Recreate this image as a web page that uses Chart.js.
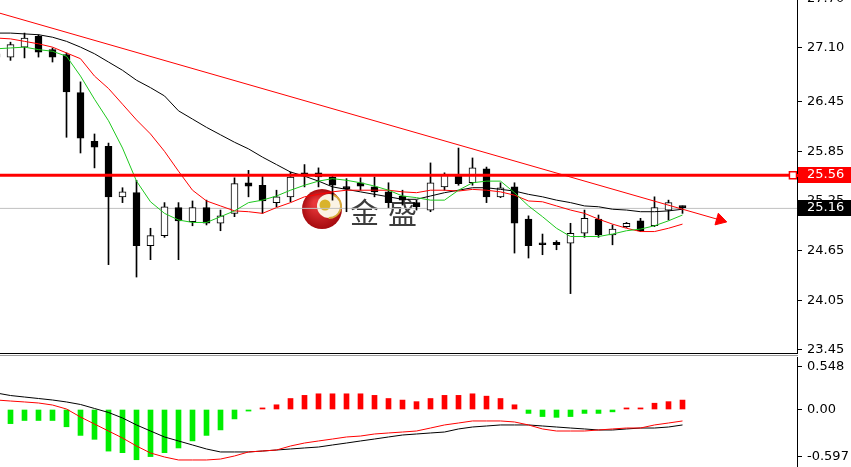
<!DOCTYPE html>
<html>
<head>
<meta charset="utf-8">
<title>XAG chart</title>
<script src="https://cdn.jsdelivr.net/npm/chart.js@4.4.1/dist/chart.umd.min.js"></script>
<style>
  html, body { margin: 0; padding: 0; background: #fff; overflow: hidden; }
  #wrap { position: relative; width: 851px; height: 467px; }
  #main { position: absolute; left: 0; top: 0; }
  #macd { position: absolute; left: 0; top: 357px; }
</style>
</head>
<body>
<div id="wrap">
  <canvas id="main" width="851" height="357"></canvas>
  <canvas id="macd" width="851" height="110"></canvas>
</div>
<script>
// candles (index 0 is the one cut at the left edge)
const open  = [26.99, 26.99, 27.11, 27.24, 27.08, 27.02, 26.56, 25.97, 25.91, 25.30, 25.35, 24.71, 24.83, 25.17, 25.00, 25.17, 24.98, 25.10, 25.47, 25.44, 25.23, 25.30, 25.59, 25.59, 25.54, 25.42, 25.47, 25.42, 25.36, 25.31, 25.23, 25.14, 25.42, 25.56, 25.47, 25.64, 25.30, 25.42, 25.03, 24.73, 24.75, 24.74, 24.86, 25.03, 24.84, 24.94, 25.01, 24.95, 25.14, 25.19];
const high  = [27.06, 27.17, 27.28, 27.26, 27.10, 27.04, 26.69, 26.06, 25.95, 25.41, 25.50, 24.92, 25.23, 25.23, 25.25, 25.26, 25.14, 25.53, 25.62, 25.56, 25.38, 25.60, 25.69, 25.65, 25.56, 25.52, 25.53, 25.54, 25.47, 25.38, 25.26, 25.71, 25.59, 25.89, 25.77, 25.66, 25.47, 25.47, 25.07, 24.85, 24.77, 24.98, 25.14, 25.08, 24.96, 24.99, 25.04, 25.30, 25.26, 25.19];
const low   = [26.93, 26.95, 26.98, 26.99, 26.93, 26.02, 25.83, 25.65, 24.48, 25.23, 24.33, 24.54, 24.81, 24.54, 24.95, 24.96, 24.89, 25.06, 25.30, 25.10, 25.18, 25.24, 25.42, 25.42, 25.26, 25.12, 25.38, 25.30, 25.17, 25.20, 25.14, 25.12, 25.38, 25.44, 25.44, 25.23, 25.29, 24.62, 24.56, 24.60, 24.66, 24.13, 24.81, 24.81, 24.72, 24.93, 24.88, 24.94, 25.02, 25.10];
const close = [27.03, 27.14, 27.22, 27.05, 26.99, 26.57, 26.01, 25.90, 25.30, 25.36, 24.71, 24.83, 25.18, 25.01, 25.17, 24.98, 25.07, 25.46, 25.43, 25.25, 25.30, 25.54, 25.55, 25.54, 25.44, 25.40, 25.43, 25.36, 25.23, 25.26, 25.18, 25.47, 25.56, 25.46, 25.65, 25.30, 25.41, 24.98, 24.71, 24.72, 24.72, 24.86, 25.04, 24.84, 24.91, 24.98, 24.89, 25.17, 25.23, 25.17];

// moving averages
const maFast = [27.09, 27.10, 27.11, 27.08, 27.06, 27.00, 26.76, 26.48, 26.22, 25.89, 25.49, 25.24, 25.10, 25.02, 24.99, 24.99, 25.06, 25.13, 25.23, 25.26, 25.31, 25.38, 25.44, 25.49, 25.52, 25.50, 25.47, 25.43, 25.38, 25.31, 25.29, 25.26, 25.26, 25.38, 25.47, 25.49, 25.49, 25.35, 25.19, 25.06, 24.92, 24.82, 24.82, 24.82, 24.85, 24.89, 24.91, 24.95, 25.01, 25.08];
const maMid  = [27.22, 27.21, 27.18, 27.15, 27.11, 27.04, 26.97, 26.76, 26.61, 26.42, 26.23, 26.06, 25.85, 25.61, 25.38, 25.25, 25.19, 25.13, 25.12, 25.10, 25.17, 25.23, 25.30, 25.33, 25.36, 25.38, 25.38, 25.38, 25.38, 25.36, 25.35, 25.38, 25.38, 25.37, 25.39, 25.38, 25.36, 25.32, 25.25, 25.24, 25.19, 25.14, 25.10, 25.03, 24.97, 24.92, 24.88, 24.88, 24.92, 24.97];
const maSlow = [27.28, 27.28, 27.27, 27.26, 27.23, 27.18, 27.11, 27.03, 26.93, 26.83, 26.71, 26.62, 26.52, 26.34, 26.24, 26.14, 26.05, 25.96, 25.88, 25.78, 25.69, 25.60, 25.55, 25.49, 25.42, 25.39, 25.36, 25.33, 25.30, 25.27, 25.27, 25.31, 25.35, 25.38, 25.41, 25.41, 25.39, 25.37, 25.33, 25.30, 25.26, 25.23, 25.19, 25.18, 25.15, 25.14, 25.12, 25.12, 25.13, 25.15];

// MACD panel
const macdHist   = [-0.15, -0.18, -0.14, -0.14, -0.14, -0.22, -0.33, -0.38, -0.53, -0.55, -0.64, -0.60, -0.55, -0.49, -0.40, -0.33, -0.26, -0.12, -0.02, 0.02, 0.06, 0.14, 0.18, 0.20, 0.20, 0.20, 0.20, 0.18, 0.14, 0.12, 0.10, 0.14, 0.18, 0.18, 0.20, 0.17, 0.14, 0.06, -0.05, -0.09, -0.10, -0.09, -0.05, -0.05, -0.03, 0.02, 0.02, 0.08, 0.10, 0.12];
const macdMain   = [0.210, 0.178, 0.159, 0.140, 0.121, 0.096, 0.064, 0.013, -0.038, -0.108, -0.197, -0.274, -0.350, -0.401, -0.452, -0.503, -0.541, -0.541, -0.541, -0.529, -0.516, -0.503, -0.490, -0.478, -0.452, -0.427, -0.401, -0.376, -0.350, -0.325, -0.312, -0.299, -0.287, -0.248, -0.223, -0.210, -0.197, -0.197, -0.197, -0.210, -0.223, -0.236, -0.248, -0.261, -0.261, -0.248, -0.236, -0.236, -0.223, -0.197];
const macdSignal = [0.121, 0.108, 0.096, 0.083, 0.057, 0.006, -0.096, -0.185, -0.274, -0.363, -0.465, -0.554, -0.605, -0.643, -0.643, -0.643, -0.631, -0.592, -0.541, -0.529, -0.516, -0.465, -0.427, -0.401, -0.376, -0.350, -0.338, -0.312, -0.299, -0.287, -0.274, -0.236, -0.197, -0.172, -0.146, -0.146, -0.146, -0.159, -0.197, -0.248, -0.274, -0.274, -0.274, -0.261, -0.248, -0.236, -0.236, -0.197, -0.172, -0.146];

// levels, trend line, axis ticks
const levelPrice = 25.56;
const bidPrice = 25.16;
const trendX = [0.25, 51.68];
const trendY = [27.52, 25.02];
const priceTicks = [27.70, 27.10, 26.45, 25.85, 25.25, 24.65, 24.05, 23.45];
const macdTicks = [0.548, 0, -0.597];
const macdTickLabels = ['0.548', '0.00', '-0.597'];
const watermarkText = '金盛';

// x range: one bar every 14px, plot area 797px wide
const xMin = 0.25;
const xMax = xMin + 797 / 14;
const idx = open.map((_, i) => i);
const tickFont = { family: 'DejaVu Sans', size: 13 };

function pts(arr) {
    return arr.map((v, i) => ({ x: i, y: v }));
}

// right axis with a fixed width and no label overflow padding
function fixAxis(scale) {
    scale.width = 54;
    scale.paddingTop = 0;
    scale.paddingBottom = 0;
}

const mainPlugin = {
    id: 'mainDecor',
    beforeDatasetsDraw(chart) {
        const ctx = chart.ctx;
        // watermark logo
        ctx.save();
        const cx = 322, cy = 209;
        const g = ctx.createRadialGradient(cx - 6, cy - 6, 3, cx, cy, 21);
        g.addColorStop(0, '#e8373a');
        g.addColorStop(1, '#a3090d');
        ctx.fillStyle = g;
        ctx.beginPath();
        ctx.arc(cx, cy, 20, 0, Math.PI * 2);
        ctx.fill();
        ctx.fillStyle = '#fbf3e4';
        ctx.beginPath();
        ctx.arc(cx + 7, cy - 3, 12, 0, Math.PI * 2);
        ctx.fill();
        ctx.strokeStyle = '#d6a93a';
        ctx.lineWidth = 2;
        ctx.beginPath();
        ctx.arc(cx + 7, cy - 3, 12, -1.2, 1.6);
        ctx.stroke();
        ctx.fillStyle = '#d9b32c';
        ctx.beginPath();
        ctx.arc(cx + 3, cy - 4, 5.5, 0, Math.PI * 2);
        ctx.fill();
        ctx.fillStyle = '#3c3c3c';
        ctx.font = '29px "Noto Sans CJK SC"';
        ctx.textBaseline = 'alphabetic';
        ctx.fillText(watermarkText[0], 350, 224);
        ctx.fillText(watermarkText[1], 388, 224);
        ctx.restore();
    },
    afterDraw(chart) {
        const ctx = chart.ctx;
        const y = chart.scales.y;
        const area = chart.chartArea;
        ctx.save();
        // panel bottom border
        ctx.fillStyle = '#000';
        ctx.fillRect(0, area.bottom, area.right + 1, 1);
        ctx.fillStyle = '#9a9a9a';
        ctx.fillRect(0, area.bottom + 2, area.right + 1, 1);
        // price boxes on the axis
        ctx.font = '13px "DejaVu Sans"';
        ctx.textBaseline = 'middle';
        const ly = Math.round(y.getPixelForValue(levelPrice));
        ctx.fillStyle = '#ff0000';
        ctx.fillRect(798, ly - 8, 53, 16);
        ctx.fillRect(797, ly - 1, 3, 3);
        ctx.fillStyle = '#fff';
        ctx.fillText(levelPrice.toFixed(2), 807, ly);
        const by = Math.round(y.getPixelForValue(bidPrice));
        ctx.fillStyle = '#000';
        ctx.fillRect(798, by - 8, 53, 16);
        ctx.fillStyle = '#fff';
        ctx.fillText(bidPrice.toFixed(2), 807, by);
        ctx.restore();
    }
};

new Chart(document.getElementById('main'), {
    type: 'bar',
    data: {
        datasets: [
            {
                type: 'line',
                data: [{ x: xMin, y: bidPrice }, { x: xMax, y: bidPrice }],
                borderColor: '#c0c0c0',
                borderWidth: 1,
                pointRadius: 0,
                order: 9
            },
            {
                data: idx.map(i => ({ x: i, y: [low[i], high[i]] })),
                backgroundColor: '#000',
                barThickness: 1,
                grouped: false,
                order: 8
            },
            {
                data: idx.map(i => ({ x: i, y: [Math.min(open[i], close[i]), Math.max(open[i], close[i])] })),
                backgroundColor: idx.map(i => close[i] >= open[i] ? '#ffffff' : '#000000'),
                borderColor: '#000',
                borderWidth: 1,
                borderSkipped: false,
                barThickness: 7,
                minBarLength: 2,
                grouped: false,
                order: 7
            },
            {
                type: 'line',
                data: pts(maSlow),
                borderColor: '#000',
                borderWidth: 1,
                pointRadius: 0,
                order: 5
            },
            {
                type: 'line',
                data: pts(maMid),
                borderColor: '#ff0000',
                borderWidth: 1,
                pointRadius: 0,
                order: 4
            },
            {
                type: 'line',
                data: pts(maFast),
                borderColor: '#1ec81e',
                borderWidth: 1,
                pointRadius: 0,
                order: 3
            },
            {
                type: 'line',
                data: trendX.map((x, i) => ({ x: x, y: trendY[i] })),
                borderColor: '#ff0000',
                borderWidth: 1,
                pointRadius: [0, 7],
                pointStyle: 'triangle',
                pointRotation: [0, 106],
                pointBackgroundColor: '#ff0000',
                pointBorderColor: '#ff0000',
                order: 2
            },
            {
                type: 'line',
                data: [{ x: xMin, y: levelPrice }, { x: 56.89, y: levelPrice }, { x: xMax, y: levelPrice }],
                borderColor: '#ff0000',
                borderWidth: 3,
                pointRadius: [0, 5, 0],
                pointStyle: 'rect',
                pointBackgroundColor: '#fff',
                pointBorderColor: '#ff0000',
                pointBorderWidth: 1.5,
                order: 1
            }
        ]
    },
    options: {
        responsive: false,
        animation: false,
        layout: { autoPadding: false, padding: { left: 0, right: 0, top: 0, bottom: 4 } },
        plugins: { legend: { display: false }, tooltip: { enabled: false } },
        scales: {
            x: { type: 'linear', min: xMin, max: xMax, offset: false, display: false },
            y: {
                position: 'right',
                bounds: 'data',
                min: 27.68 - 353 / 82.7,
                max: 27.68,
                afterBuildTicks: function(scale) {
                    scale.ticks = priceTicks.map(v => ({ value: v }));
                },
                afterFit: fixAxis,
                grid: { drawOnChartArea: false, drawTicks: true, tickLength: 5, color: '#000' },
                border: { display: true, color: '#000' },
                ticks: {
                    autoSkip: false,
                    padding: 5,
                    color: '#000',
                    font: tickFont,
                    callback: function(value) {
                        return Number(value).toFixed(2);
                    }
                }
            }
        }
    },
    plugins: [mainPlugin]
});

new Chart(document.getElementById('macd'), {
    type: 'bar',
    data: {
        datasets: [
            {
                data: pts(macdHist),
                backgroundColor: macdHist.map(v => v >= 0 ? '#ff0000' : '#00ee00'),
                barThickness: 5,
                grouped: false,
                order: 3
            },
            {
                type: 'line',
                data: pts(macdMain),
                borderColor: '#000',
                borderWidth: 1,
                pointRadius: 0,
                order: 2
            },
            {
                type: 'line',
                data: pts(macdSignal),
                borderColor: '#ff0000',
                borderWidth: 1,
                pointRadius: 0,
                order: 1
            }
        ]
    },
    options: {
        responsive: false,
        animation: false,
        layout: { autoPadding: false, padding: 0 },
        plugins: { legend: { display: false }, tooltip: { enabled: false } },
        scales: {
            x: { type: 'linear', min: xMin, max: xMax, offset: false, display: false },
            y: {
                position: 'right',
                bounds: 'data',
                min: -57.5 / 78.5,
                max: 52.5 / 78.5,
                afterBuildTicks: function(scale) {
                    scale.ticks = macdTicks.map(v => ({ value: v }));
                },
                afterFit: fixAxis,
                grid: { drawOnChartArea: false, drawTicks: true, tickLength: 5, color: '#000' },
                border: { display: true, color: '#000' },
                ticks: {
                    autoSkip: false,
                    padding: 5,
                    color: '#000',
                    font: tickFont,
                    callback: function(value, index) {
                        return macdTickLabels[index];
                    }
                }
            }
        }
    }
});
</script>
</body>
</html>
